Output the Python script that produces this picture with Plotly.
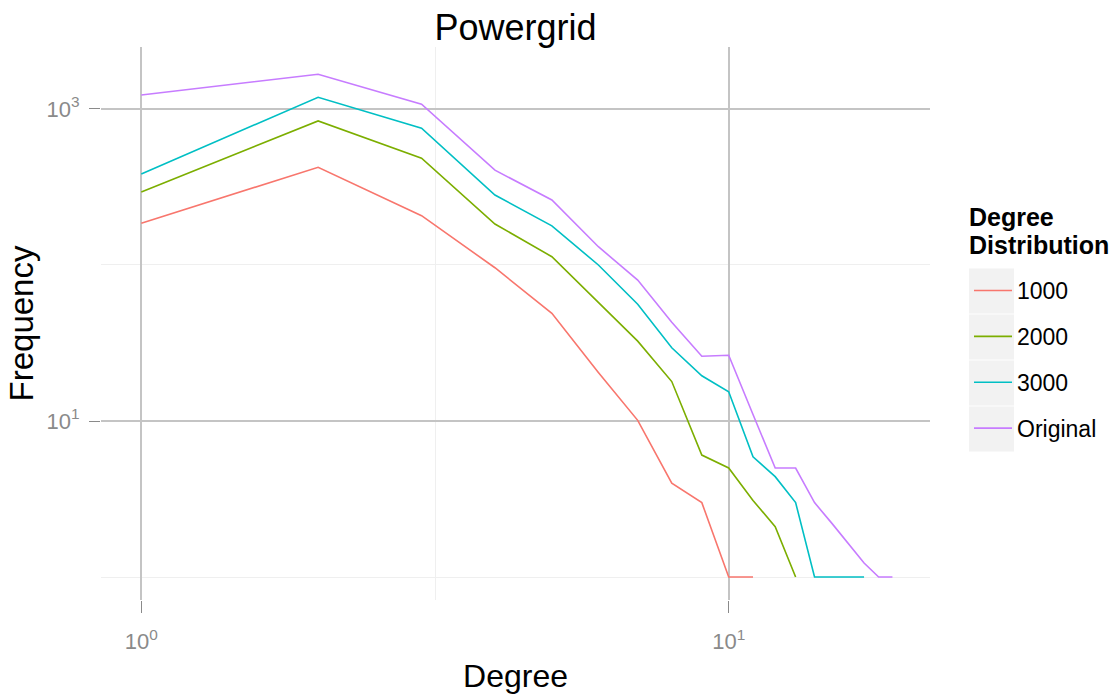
import plotly.graph_objects as go

# ---- data ----
deg_1000 = [1, 2, 3, 4, 5, 6, 7, 8, 9, 10, 11]
freq_1000 = [185, 423, 207, 96, 49, 20.5, 10.1, 4, 3, 1, 1]

deg_2000 = [1, 2, 3, 4, 5, 6, 7, 8, 9, 10, 11, 12, 13]
freq_2000 = [294, 838, 483, 183, 113, 58, 32.5, 17.9, 6.05, 5, 3.1, 2.1, 1]

deg_3000 = [1, 2, 3, 4, 5, 6, 7, 8, 9, 10, 11, 12, 13, 14, 15, 16, 17]
freq_3000 = [383, 1188, 752, 281, 178, 100, 56, 29.5, 19.5, 15.4, 5.9, 4.4, 3.0, 1, 1, 1, 1]

deg_orig = [1, 2, 3, 4, 5, 6, 7, 8, 9, 10, 11, 12, 13, 14, 15, 16, 17, 18, 19]
freq_orig = [1230, 1668, 1072, 405, 261, 131, 80, 43, 26, 26.4, 11, 5, 5, 3, 2.2, 1.63, 1.23, 1, 1]

series_names = ["1000", "2000", "3000", "Original"]
series_colors = ["#F8766D", "#7CAE00", "#00BFC4", "#C77CFF"]
series_x = [deg_1000, deg_2000, deg_3000, deg_orig]
series_y = [freq_1000, freq_2000, freq_3000, freq_orig]

x_tickvals = [1, 10]
x_ticktext = ["10<sup>0</sup>", "10<sup>1</sup>"]
y_tickvals = [10, 1000]
y_ticktext = ["10<sup>1</sup>", "10<sup>3</sup>"]

legend_title_lines = ["Degree", "Distribution"]

FONT = "Liberation Sans, Arial, sans-serif"

fig = go.Figure()
for name, col, xs, ys in zip(series_names, series_colors, series_x, series_y):
    fig.add_trace(go.Scatter(
        x=xs, y=ys, mode="lines", name=name, legendgroup=name,
        line=dict(color=col, width=1.6),
    ))

L, R, T, B = 101, 930, 47, 600
def px2x(p):
    return (p - L) / (R - L)
def py2y(p):
    return (B - p) / (B - T)

# grey key backgrounds for the legend (ggplot style)
key_centers = [291, 337, 383, 429]
for kc in key_centers:
    fig.add_shape(type="rect", xref="paper", yref="paper",
                  x0=px2x(969), x1=px2x(1014), y0=py2y(kc + 22.5), y1=py2y(kc - 22.5),
                  fillcolor="#F2F2F2", line=dict(width=0), layer="below")

# legend title (two lines, tight spacing like ggplot)
for txt, cy in zip(legend_title_lines, [217, 245]):
    fig.add_annotation(text="<b>" + txt + "</b>", xref="paper", yref="paper",
                       x=px2x(967), xanchor="left", y=py2y(cy), yanchor="middle",
                       showarrow=False, font=dict(size=25, color="black"))

fig.update_layout(
    width=1119, height=697,
    margin=dict(l=L, r=1119 - R, t=T, b=697 - B),
    paper_bgcolor="white", plot_bgcolor="white",
    font=dict(family=FONT, color="black"),
    title=dict(text="Powergrid", x=(L + R) / 2 / 1119, xanchor="center",
               y=1 - 27 / 697, yanchor="middle",
               font=dict(size=36, color="black")),
    showlegend=True,
    legend=dict(
        font=dict(size=23, color="black"),
        x=px2x(969), xanchor="left", y=py2y(269), yanchor="top",
        bgcolor="rgba(0,0,0,0)", itemwidth=38, tracegroupgap=13,
        traceorder="grouped",
    ),
)

fig.update_xaxes(
    type="log", range=[-0.0686, 1.3427], automargin=False,
    tickvals=x_tickvals, ticktext=x_ticktext,
    tickfont=dict(size=22, color="#8A8A8A"),
    ticks="outside", ticklen=12, tickcolor="#8A8A8A", tickwidth=1.3,
    ticklabelstandoff=10,
    showgrid=True, gridcolor="#C4C4C4", gridwidth=1.6,
    minor=dict(tickvals=[10 ** 0.5], showgrid=True, gridcolor="#EFEFEF", gridwidth=1.3, ticks=""),
    zeroline=False, showline=False,
    title=dict(text="Degree", font=dict(size=32, color="black"), standoff=11),
)
fig.update_yaxes(
    type="log", range=[-0.147, 3.397], automargin=False,
    tickvals=y_tickvals, ticktext=y_ticktext,
    tickfont=dict(size=22, color="#8A8A8A"),
    ticks="outside", ticklen=11, tickcolor="#8A8A8A", tickwidth=1.3,
    ticklabelstandoff=5,
    showgrid=True, gridcolor="#C4C4C4", gridwidth=1.6,
    minor=dict(tickvals=[1, 100], showgrid=True, gridcolor="#EFEFEF", gridwidth=1.3, ticks=""),
    zeroline=False, showline=False,
    title=dict(text="Frequency", font=dict(size=33, color="black"), standoff=3),
)

fig.write_html("out.html")
